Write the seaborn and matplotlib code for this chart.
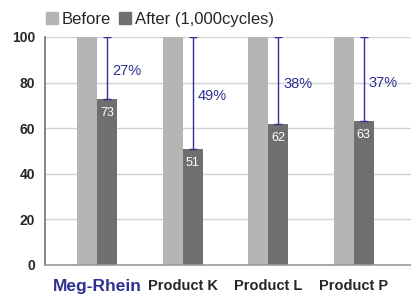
import seaborn as sns
import matplotlib.pyplot as plt
import pandas as pd

products = ["Meg-Rhein", "Product K", "Product L", "Product P"]
before = [100, 100, 100, 100]
after = [73, 51, 62, 63]
reduction = ["27%", "49%", "38%", "37%"]

BLUE = "#2e3192"
LIGHT = "#b4b5b4"
DARK = "#6f6f6f"

df = pd.DataFrame({
    "product": products * 2,
    "value": before + after,
    "state": ["Before"] * 4 + ["After (1,000cycles)"] * 4,
})

sns.set_style("white")
plt.rcParams["font.family"] = ["Liberation Sans", "DejaVu Sans"]

fig = plt.figure(figsize=(4.11, 2.95), dpi=100)
ax = fig.add_axes([0.1095, 0.1017, 0.8905, 0.7729])

sns.barplot(data=df, x="product", y="value", hue="state",
            palette=[LIGHT, DARK], width=0.47, ax=ax, legend=False,
            edgecolor="none", saturation=1)

ax.set_ylim(0, 100)
ax.set_xlim(-0.61, 3.67)
ax.set_yticks([0, 20, 40, 60, 80, 100])
ax.yaxis.grid(True, color="#d4d4d4", linewidth=1)
ax.set_axisbelow(True)
ax.set_xlabel("")
ax.set_ylabel("")
ax.tick_params(axis="y", length=4, color="#d4d4d4", width=1, pad=3)
for lbl in ax.get_yticklabels():
    lbl.set_fontweight("bold")
    lbl.set_fontsize(10)
ax.set_xticks(range(len(products)))
ax.set_xticklabels(products, fontweight="bold", fontsize=10.5)
ax.get_xticklabels()[0].set_color(BLUE)
ax.get_xticklabels()[0].set_fontsize(12.5)
ax.tick_params(axis="x", length=0, pad=10)

for side in ["top", "right"]:
    ax.spines[side].set_visible(False)
ax.spines["left"].set_color("#707070")
ax.spines["left"].set_linewidth(1.2)
ax.spines["bottom"].set_color("#9a9a9a")
ax.spines["bottom"].set_linewidth(1.2)

after_bars = ax.containers[1]
for bar, val, before_val, pct in zip(after_bars, after, before, reduction):
    cx = bar.get_x() + bar.get_width() / 2
    ax.errorbar(cx, val, yerr=[[0], [before_val - val]], fmt="none",
                ecolor=BLUE, elinewidth=1, capsize=3, capthick=1)
    ax.text(cx, val - 3.5, str(val), color="white", ha="center", va="top",
            fontsize=9)
    ax.text(cx + 0.06, (before_val + val) / 2 - 1.5, pct, color=BLUE,
            ha="left", va="center", fontsize=10.5)

handles = [plt.Line2D([], [], marker="s", linestyle="none", markersize=9,
                      color=c) for c in [LIGHT, DARK]]
fig.legend(handles, ["Before", "After (1,000cycles)"], loc="upper left",
           bbox_to_anchor=(0.07, 1.01), ncol=2, frameon=False, fontsize=12,
           handletextpad=0.1, columnspacing=0.3, handlelength=1.0)

fig.savefig("out.png", dpi=100)
